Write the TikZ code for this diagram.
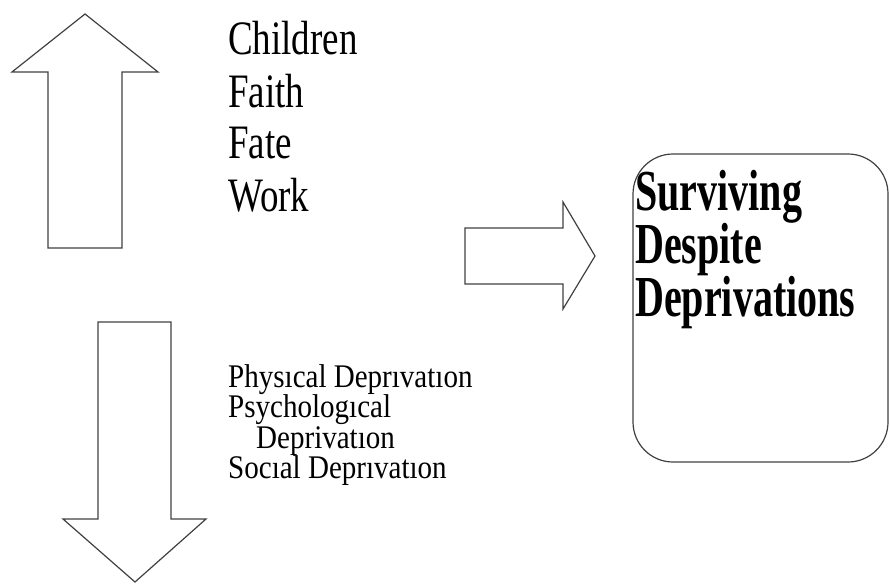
\documentclass[tikz,border=0pt]{standalone}
\usepackage{fontspec}
\setmainfont{Liberation Serif}
\newfontfamily\upfont[FakeStretch=0.77]{Liberation Serif}
\newfontfamily\lowfont[FakeStretch=0.88]{Liberation Serif}
\newfontfamily\boxfont[FakeStretch=0.69]{Liberation Serif}
\begin{document}
\begin{tikzpicture}[x=1pt,y=-1pt,
  shapeline/.style={draw=black!75, line width=1.2pt, line join=miter},
  uptext/.style={anchor=base west, inner sep=0pt, font=\upfont\fontsize{48}{52}\selectfont},
  lowtext/.style={anchor=base west, inner sep=0pt, font=\lowfont\fontsize{33}{30}\selectfont},
  boxtext/.style={anchor=base west, inner sep=0pt, font=\boxfont\bfseries\fontsize{58}{54}\selectfont}]
\useasboundingbox (0,0) rectangle (890,583);
% up arrow
\draw[shapeline] (85,14) -- (158,72) -- (122,72) -- (122,248) -- (48,248) -- (48,72) -- (12,72) -- cycle;
% down arrow
\draw[shapeline] (98,322) -- (171,322) -- (171,519) -- (206,519) -- (135,582) -- (63,519) -- (98,519) -- cycle;
% right arrow
\draw[shapeline] (465,228) -- (563,228) -- (563,202) -- (595,256) -- (563,309) -- (563,284) -- (465,284) -- cycle;
% box
\draw[shapeline, rounded corners=40pt] (633,154) rectangle (888,462);
% upper list
\node[uptext] (children) at (228,55) {Children};
\node[uptext] (faith) at (228,107) {Faith};
\node[uptext] (fate) at (228,158) {Fate};
\node[uptext] (work) at (228,211) {Work};
% lower list
\node[lowtext] (phys) at (228,387) {Physıcal Deprıvatıon};
\node[lowtext] (psych) at (228,417) {Psychologıcal};
\node[lowtext] (psych2) at (256,448) {Deprivatıon};
\node[lowtext] (soc) at (228,478) {Socıal Deprıvatıon};
% box text
\node[boxtext] (surv) at (635,210) {Surviving};
\node[boxtext] (desp) at (635,263) {Despite};
\node[boxtext] (depr) at (635,316) {Deprivations};
\end{tikzpicture}
\end{document}
